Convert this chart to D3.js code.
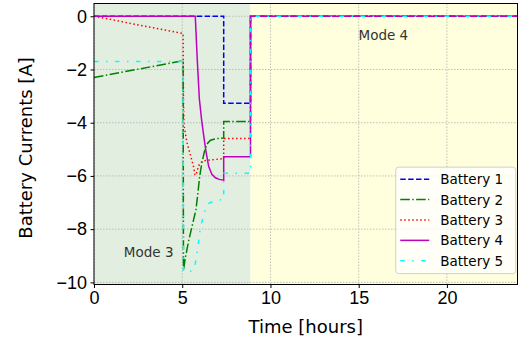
<!DOCTYPE html>
<html>
<head>
<meta charset="utf-8">
<script src="https://cdn.jsdelivr.net/npm/d3@7"></script>
<style>
  body { margin: 0; background: #fff; }
  svg { font-family: "DejaVu Sans", sans-serif; }
  .tick text { font-size: 18px; fill: #000; }
  .grid line { stroke: #b0b0b0; stroke-width: 0.8; stroke-dasharray: 1.5,1.5; }
</style>
</head>
<body>
<div id="chart"></div>
<script>
// [time in hours, current in A]
const battery1 = [[0, 0], [7.35, 0], [7.35, -3.27], [8.87, -3.27], [8.87, 0], [24, 0]];
const battery2 = [[0, -2.3], [5.05, -1.67], [5.07, -9.55], [5.17, -9.1], [5.36, -8.45], [5.59, -7.8],
  [5.78, -7.26], [5.89, -6.63], [5.97, -6.13], [6.05, -5.75], [6.12, -5.5], [6.25, -5.1], [6.4, -4.8],
  [6.6, -4.66], [6.9, -4.6], [7.35, -4.58], [7.35, -3.95], [8.87, -3.95], [8.87, 0], [24, 0]];
const battery3 = [[0, 0], [5.05, -0.65], [5.07, -3.2], [5.1, -4.1], [5.27, -4.75], [5.45, -5.18],
  [5.64, -5.65], [5.72, -5.95], [5.78, -5.97], [5.85, -5.8], [5.93, -5.62], [6.05, -5.5], [6.2, -5.43],
  [6.6, -5.4], [7.35, -5.35], [7.35, -4.59], [8.87, -4.59], [8.87, 0], [24, 0]];
const battery4 = [[0, 0], [5.74, 0], [5.85, -1.6], [5.97, -3.1], [6.1, -3.9], [6.21, -4.45], [6.35, -5.1],
  [6.5, -5.65], [6.68, -5.94], [6.88, -6.07], [7.1, -6.13], [7.35, -6.16], [7.35, -5.28], [8.87, -5.28],
  [8.87, 0], [24, 0]];
const battery5 = [[0, -1.7], [5.05, -1.7], [5.07, -9.6], [5.4, -9.6], [5.6, -9.55], [5.7, -9.45],
  [5.8, -9.06], [5.9, -8.64], [5.97, -8.2], [6.08, -7.8], [6.3, -7.3], [6.5, -7.03], [6.9, -6.92],
  [7.35, -6.88], [7.35, -5.9], [8.87, -5.9], [8.87, 0], [24, 0]];

const seriesNames = ['Battery 1', 'Battery 2', 'Battery 3', 'Battery 4', 'Battery 5'];
const modes = [
  {name: 'Mode 3', from: 0, to: 8.87, labelX: 3.1, labelY: -9.05},
  {name: 'Mode 4', from: 8.87, to: 24, labelX: 16.4, labelY: -0.9}
];
const xTicks = [0, 5, 10, 15, 20];
const yTicks = [0, -2, -4, -6, -8, -10];

const series = [battery1, battery2, battery3, battery4, battery5];
const styles = [
  {color: '#0000ff', dash: '5.5,2.4'},
  {color: '#008000', dash: '9.6,2.4,1.5,2.4'},
  {color: '#ff0000', dash: '1.5,2.5'},
  {color: '#bf00bf', dash: null},
  {color: '#00ffff', dash: '4.5,7.5,1.5,7.5'}
];
const modeFill = ['#e2efe0', '#ffffdd'];

const width = 522, height = 343;
const margin = {top: 3.5, right: 4.5, bottom: 58.5, left: 94};
const w = width - margin.left - margin.right;
const h = height - margin.top - margin.bottom;

const svg = d3.select('#chart').append('svg')
  .attr('width', width)
  .attr('height', height);

const g = svg.append('g')
  .attr('transform', `translate(${margin.left}, ${margin.top})`);

const x = d3.scaleLinear().domain([0, 24]).range([0, w]);
const y = d3.scaleLinear().domain([-10.08, 0.48]).range([h, 0]);

// mode backgrounds
g.selectAll('.mode')
  .data(modes)
  .enter().append('rect')
  .attr('class', 'mode')
  .attr('x', d => x(d.from))
  .attr('y', 0)
  .attr('width', d => x(d.to) - x(d.from))
  .attr('height', h)
  .style('fill', (d, i) => modeFill[i]);

// grid
const grid = g.append('g').attr('class', 'grid');
grid.selectAll('.gx').data(xTicks).enter().append('line')
  .attr('x1', d => x(d)).attr('x2', d => x(d)).attr('y1', 0).attr('y2', h);
grid.selectAll('.gy').data(yTicks).enter().append('line')
  .attr('x1', 0).attr('x2', w).attr('y1', d => y(d)).attr('y2', d => y(d));

// lines
const line = d3.line()
  .x(d => x(d[0]))
  .y(d => y(d[1]));

series.forEach((s, i) => {
  g.append('path')
    .datum(s)
    .attr('d', line)
    .style('fill', 'none')
    .style('stroke', styles[i].color)
    .style('stroke-width', 1.5)
    .style('stroke-dasharray', styles[i].dash);
});

// mode labels
g.selectAll('.mode-label')
  .data(modes)
  .enter().append('text')
  .attr('x', d => x(d.labelX))
  .attr('y', d => y(d.labelY))
  .attr('text-anchor', 'middle')
  .style('font-size', '13.5px')
  .style('fill', '#333')
  .text(d => d.name);

// axes
const fmt = d => d < 0 ? '\u2212' + Math.abs(d) : String(d);
g.append('g')
  .attr('transform', `translate(0, ${h})`)
  .call(d3.axisBottom(x).tickValues(xTicks).tickSize(3.5).tickPadding(3.5).tickFormat(fmt))
  .call(a => a.select('.domain').remove());
g.append('g')
  .call(d3.axisLeft(y).tickValues(yTicks).tickSize(3.5).tickPadding(3.5).tickFormat(fmt))
  .call(a => a.select('.domain').remove());

g.append('rect')
  .attr('width', w).attr('height', h)
  .style('fill', 'none').style('stroke', '#000').style('stroke-width', 1);

svg.append('text')
  .attr('x', margin.left + w / 2)
  .attr('y', 333)
  .attr('text-anchor', 'middle')
  .style('font-size', '18px')
  .text('Time [hours]');

svg.append('text')
  .attr('transform', `translate(32, ${margin.top + y(-4.95)}) rotate(-90)`)
  .attr('text-anchor', 'middle')
  .style('font-size', '18px')
  .text('Battery Currents [A]');

// legend
const legend = g.append('g')
  .attr('transform', `translate(${x(17.1)}, ${y(-5.67)})`);
legend.append('rect')
  .attr('width', 120).attr('height', 106.5)
  .attr('rx', 3)
  .style('fill', '#fff').style('fill-opacity', 0.8)
  .style('stroke', '#d0d0d0');
seriesNames.forEach((name, i) => {
  const ry = 12 + i * 20.4;
  legend.append('line')
    .attr('x1', 4.5).attr('x2', 33.5).attr('y1', ry).attr('y2', ry)
    .style('stroke', styles[i].color)
    .style('stroke-width', 1.5)
    .style('stroke-dasharray', styles[i].dash);
  legend.append('text')
    .attr('x', 44.5).attr('y', ry + 5)
    .style('font-size', '13.5px')
    .text(name);
});
</script>
</body>
</html>
